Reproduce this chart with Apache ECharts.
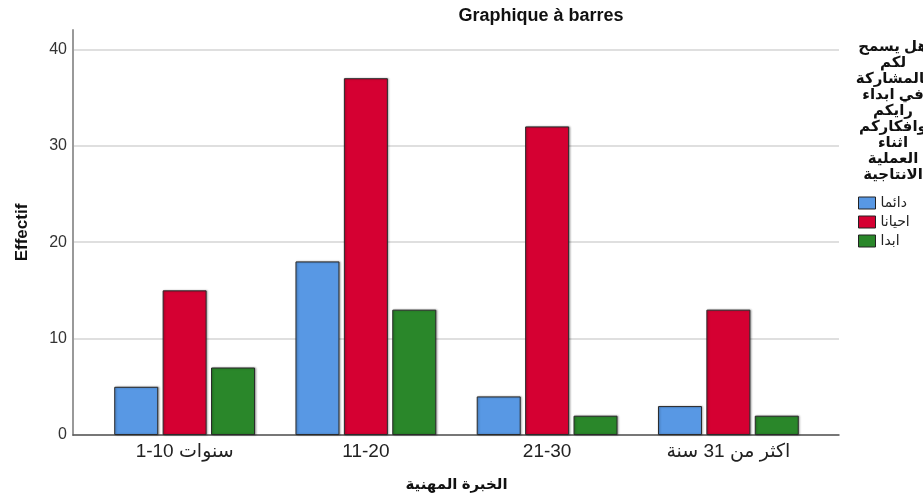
<!DOCTYPE html>
<html>
<head>
<meta charset="utf-8">
<script src="https://cdn.jsdelivr.net/npm/echarts@6/dist/echarts.min.js"></script>
<style>
  html, body { margin: 0; padding: 0; background: #fff; }
  #chart { width: 923px; height: 497px; }
</style>
</head>
<body>
<div id="chart"></div>
<script>
// Experience groups on the x axis
const categories = ['1-10 سنوات', '11-20', '21-30', 'اكثر من 31 سنة'];

// Counts per response
const seriesNames = ['دائما', 'احيانا', 'ابدا'];
const always = [5, 18, 4, 3];
const sometimes = [15, 37, 32, 13];
const never = [7, 13, 2, 2];

const yTicks = [0, 10, 20, 30, 40];
const yMax = 42;

const legendTitleLines = ['هل يسمح', 'لكم', 'بالمشاركة', 'في ابداء', 'رايكم', 'وافكاركم', 'اثناء', 'العملية', 'الانتاجية'];

const colors = ['#5898e4', '#d50032', '#2a872a'];
const FONT = 'Liberation Sans, Arial, DejaVu Sans, sans-serif';

const chart = echarts.init(document.getElementById('chart'), null, { renderer: 'canvas' });

const barStyle = (c) => ({
  color: c,
  borderColor: '#2a2a2a',
  borderWidth: 1,
  shadowColor: 'rgba(0,0,0,0.3)',
  shadowBlur: 2,
  shadowOffsetX: 1,
  shadowOffsetY: 0
});

const values = [always, sometimes, never];

// Multi-line legend heading, centred above the legend swatches
const legendTitle = legendTitleLines.map((t, i) => ({
  type: 'text',
  x: 893,
  y: 47 + i * 16,
  style: {
    text: t,
    fill: '#111',
    font: 'bold 15px ' + FONT,
    textAlign: 'center',
    textVerticalAlign: 'middle'
  }
}));

chart.setOption({
  animation: false,
  backgroundColor: '#ffffff',
  textStyle: { fontFamily: FONT },
  graphic: [
    {
      type: 'text',
      x: 541,
      y: 16,
      style: {
        text: 'Graphique à barres',
        fill: '#111',
        font: 'bold 18px ' + FONT,
        textAlign: 'center',
        textVerticalAlign: 'middle'
      }
    }
  ].concat(legendTitle),
  legend: {
    orient: 'vertical',
    left: 853,
    top: 191,
    icon: 'rect',
    itemWidth: 17,
    itemHeight: 12,
    itemGap: 5,
    data: seriesNames,
    textStyle: { fontSize: 14, color: '#222', fontFamily: FONT },
    itemStyle: { borderColor: '#222', borderWidth: 1 }
  },
  grid: [
    { left: 73, right: 84, top: 30, bottom: 62 },
    { left: 94, right: 104, top: 30, bottom: 62 }
  ],
  xAxis: [
    {
      gridIndex: 0,
      type: 'value',
      min: 0,
      max: 1,
      axisLine: { show: true, lineStyle: { color: '#555', width: 1.5 } },
      axisTick: { show: false },
      axisLabel: { show: false },
      splitLine: { show: false }
    },
    {
      gridIndex: 1,
      type: 'category',
      data: categories,
      axisLine: { show: false },
      axisTick: { show: false },
      axisLabel: { fontSize: 19, color: '#222', margin: 7, fontFamily: FONT },
      name: 'الخبرة المهنية',
      nameLocation: 'middle',
      nameGap: 42,
      nameTextStyle: { fontSize: 15, fontWeight: 'bold', color: '#111', fontFamily: FONT }
    }
  ],
  yAxis: [
    {
      gridIndex: 0,
      type: 'value',
      min: 0,
      max: yMax,
      interval: 10,
      axisLine: { show: true, lineStyle: { color: '#999', width: 2 } },
      axisTick: { show: false },
      axisLabel: {
        fontSize: 16,
        color: '#333',
        margin: 6,
        showMaxLabel: false,
        formatter: (v) => (yTicks.indexOf(v) >= 0 ? String(v) : '')
      },
      splitLine: { show: true, showMaxLine: false, lineStyle: { color: '#d4d4d4', width: 1.5 } },
      name: 'Effectif',
      nameLocation: 'middle',
      nameGap: 42,
      nameTextStyle: { fontSize: 17, fontWeight: 'bold', color: '#111', fontFamily: FONT }
    },
    {
      gridIndex: 1,
      type: 'value',
      min: 0,
      max: yMax,
      interval: 10,
      show: false
    }
  ],
  series: seriesNames.map((n, i) => ({
    name: n,
    type: 'bar',
    xAxisIndex: 1,
    yAxisIndex: 1,
    data: values[i],
    barWidth: 44,
    barGap: '10%',
    itemStyle: barStyle(colors[i])
  }))
});
</script>
</body>
</html>
